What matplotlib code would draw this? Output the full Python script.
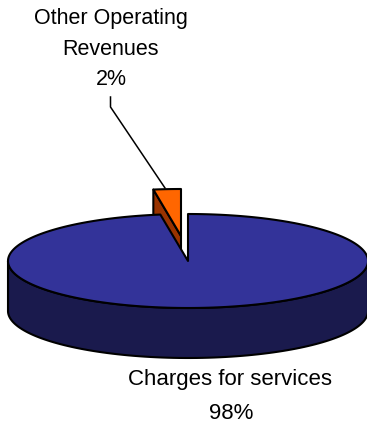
import numpy as np
import matplotlib
matplotlib.use("Agg")
import matplotlib.pyplot as plt
from matplotlib.patches import Polygon

categories = ["Other Operating\nRevenues", "Charges for services"]
shares = [2, 98]

CX, CY = 188, 261
RX, RY = 180, 47
DEPTH = 50
EXPLODE = (-7, -25)
LINE = 1.5


def rim(theta, offset=(0, 0), drop=0):
    """Rim points for clockwise angles (degrees) measured from the back of the pie."""
    t = np.radians(theta)
    t = t + 0.115 * np.sin(2 * t)  # the tilted view widens slices at the back
    x = CX + offset[0] + RX * np.sin(t)
    y = CY + offset[1] - RY * np.cos(t) + drop
    return np.column_stack([x, y])


small_sweep = shares[0] / sum(shares) * 360

plt.rcParams["font.family"] = ["Liberation Sans"]
fig = plt.figure(figsize=(3.67, 4.23), dpi=100)
ax = fig.add_axes([0, 0, 1, 1])
ax.set_xlim(0, 367)
ax.set_ylim(423, 0)
ax.axis("off")

# exploded slice: cut face first, then its top
arc = rim(np.linspace(-small_sweep, 0, 20), EXPLODE)
apex = np.array([CX + EXPLODE[0], CY + EXPLODE[1]])
left = arc[0]
face = [left, apex, apex + [0, DEPTH], left + [0, DEPTH]]
ax.add_patch(Polygon(face, fc="#993300", ec="black", lw=LINE, joinstyle="round"))
ax.add_patch(Polygon(np.vstack([arc, apex]), fc="#FF6600", ec="black", lw=LINE,
                     joinstyle="round"))

# main slice: front wall, then top
front = rim(np.linspace(90, 270, 120))
wall = np.vstack([front, front[::-1] + [0, DEPTH]])
ax.add_patch(Polygon(wall, fc="#1A1A4D", ec="black", lw=LINE, joinstyle="round"))
big_arc = rim(np.linspace(0, 360 - small_sweep, 300))
ax.add_patch(Polygon(np.vstack([big_arc, [CX, CY]]), fc="#333399", ec="black", lw=LINE,
                     joinstyle="round"))

# labels and leader
ax.plot([110.5, 110.5, 165], [97, 107, 188], color="black", lw=1.1)
ax.text(111, 55, categories[0], ha="center", va="baseline", fontsize=15.5,
        linespacing=1.6, multialignment="center")
ax.text(111, 85, f"{shares[0]}%", ha="center", va="baseline", fontsize=15.5)
ax.text(230, 385, categories[1], ha="center", va="baseline", fontsize=16)
ax.text(231, 419, f"{shares[1]}%", ha="center", va="baseline", fontsize=16)

fig.savefig("out.png", dpi=100)
